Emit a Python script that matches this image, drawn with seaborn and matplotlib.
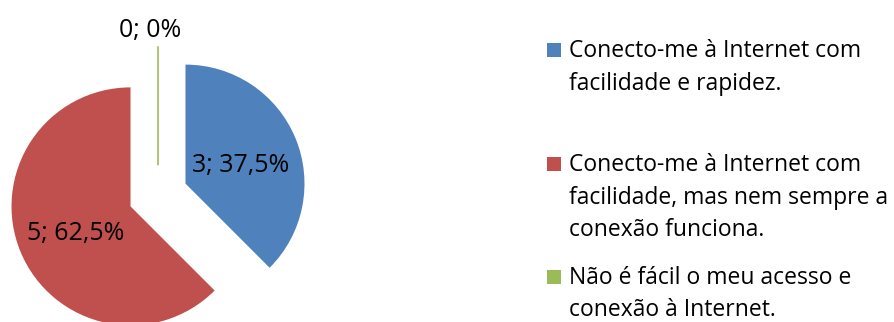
import numpy as np
import matplotlib
matplotlib.use("Agg")
import matplotlib.pyplot as plt
import matplotlib.patches as mpatches
import seaborn as sns

# dados do gráfico
categorias = [
    "Conecto-me à Internet com\nfacilidade e rapidez.",
    "Conecto-me à Internet com\nfacilidade, mas nem sempre a\nconexão funciona.",
    "Não é fácil o meu acesso e\nconexão à Internet.",
]
valores = [3, 5, 0]
cores = ["#4F81BD", "#C0504D", "#9BBB59"]

sns.set_style("white")
plt.rcParams["font.family"] = ["Open Sans", "DejaVu Sans"]

W, H = 895, 322
fig = plt.figure(figsize=(W / 100, H / 100), dpi=100)
fig.patch.set_facecolor("white")

# eixo do gráfico de pizza (1 unidade = 119 px, centro em (158,195) px)
R = 119.0
cx, cy = 158.0, 195.0
ax_w = 320
ax = fig.add_axes([0, 0, ax_w / W, 1])
wedges, _ = ax.pie(valores, colors=cores, startangle=90, counterclock=False,
                   explode=[0.25] * len(valores), radius=1,
                   wedgeprops=dict(linewidth=0))
ax.set_aspect("auto")
ax.set_xlim(-cx / R, (ax_w - cx) / R)
ax.set_ylim(-(H - cy) / R, cy / R)

total = sum(valores)
for w, v, c in zip(wedges, valores, cores):
    if v == 0:
        w.set_edgecolor(c)
        w.set_linewidth(1.2)
    pct = 100 * v / total
    txt = f"{pct:.1f}".rstrip("0").rstrip(".").replace(".", ",")
    ang = np.deg2rad((w.theta1 + w.theta2) / 2)
    d = 0.5 if v > 0 else 1.17
    x0, y0 = w.center
    ax.text(x0 + d * np.cos(ang) - (0.07 if v == 0 else 0),
            y0 + d * np.sin(ang) - 0.035,
            f"{v}; {txt}%", ha="center", va="center", fontsize=18, color="black")

# legenda manual (quadrado alinhado à primeira linha)
bases = [57, 171, 284]
passo = 32.5
for lab, c, b in zip(categorias, cores, bases):
    fig.patches.append(mpatches.Rectangle((547 / W, 1 - b / H), 14 / W, 14 / H,
                                          transform=fig.transFigure,
                                          facecolor=c, edgecolor="none"))
    for i, linha in enumerate(lab.split("\n")):
        fig.text(569 / W, 1 - (b + i * passo) / H, linha, ha="left",
                 va="baseline", fontsize=16.5, color="black")

fig.savefig("out.png", dpi=100, facecolor="white")
